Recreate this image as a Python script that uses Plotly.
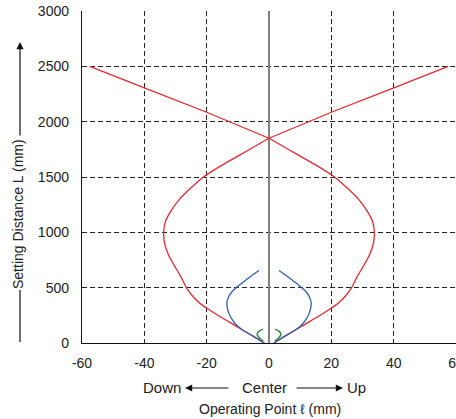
import plotly.graph_objects as go

# ---- data ----
x_ticks = [-60, -40, -20, 0, 20, 40, 60]
y_ticks = [0, 500, 1000, 1500, 2000, 2500, 3000]

# red: lower lobe (right half, mirrored for left)
red_lobe_y = [0, 60, 120, 180, 240, 300, 340, 380, 420, 470, 520, 600, 700, 800, 900,
              1000, 1100, 1200, 1300, 1400, 1500, 1600, 1700, 1800, 1850]
red_lobe_x = [1.5, 5.0, 8.6, 12.2, 15.8, 19.2, 21.3, 23.0, 24.4, 25.8, 26.9, 28.3, 30.4, 32.3, 33.5,
              33.8, 33.2, 31.3, 28.7, 25.1, 21.0, 15.5, 9.3, 3.1, 0.0]
# red: upper straight branches beyond crossing
red_top_y = [1850, 2085, 2305, 2500]
red_top_x = [0.0, 20.0, 40.0, 57.5]

# blue (right half, mirrored for left)
blue_y = [0, 60, 120, 170, 220, 270, 320, 370, 420, 465, 515, 565, 610, 655]
blue_x = [1.5, 5.0, 8.6, 10.7, 12.0, 12.9, 13.4, 13.5, 12.9, 11.8, 9.9, 7.6, 5.5, 3.2]

# green (right half, mirrored for left)
green_y = [20, 45, 78, 105, 125]
green_x = [1.9, 3.1, 3.8, 3.3, 2.0]

RED = "#e8282e"
BLUE = "#2f5fb3"
GREEN = "#2e8b3c"
FONT = "Liberation Sans, Arial, sans-serif"

fig = go.Figure()

def add(xs, ys, color, shape="spline", width=1.3):
    fig.add_trace(go.Scatter(x=xs, y=ys, mode="lines",
                             line=dict(color=color, width=width, shape=shape, smoothing=0.6),
                             hoverinfo="skip", showlegend=False))

for s in (1, -1):
    add([s * v for v in green_x], green_y, GREEN, width=1.5)
for s in (1, -1):
    add([s * v for v in red_lobe_x], red_lobe_y, RED)
    add([-s * v for v in red_top_x], red_top_y, RED, shape="linear")
    add([s * v for v in blue_x], blue_y, BLUE)

W, H = 456, 419
L, R, T = 82, 0, 11
B = H - 343
pw, ph = W - L - R, H - T - B

def px(x):
    return (x - L) / pw

def py(y):
    return (H - B - y) / ph

tickfont = dict(family=FONT, size=14, color="#222")

fig.update_layout(
    width=W, height=H,
    margin=dict(l=L, r=R, t=T, b=B, autoexpand=False),
    paper_bgcolor="white", plot_bgcolor="white",
    template="none",
    xaxis=dict(range=[-60, 60], tickvals=x_ticks, ticktext=[str(v) for v in x_ticks],
               showgrid=True, gridcolor="#222", griddash="5px,3px", gridwidth=1,
               zeroline=True, zerolinecolor="#808080", zerolinewidth=2,
               showline=True, linecolor="#111", linewidth=1.2,
               ticks="", tickfont=tickfont, automargin=False, ticklabelstandoff=7,
               ticklabeloverflow="allow"),
    yaxis=dict(range=[0, 3000], tickvals=y_ticks, ticktext=[str(v) for v in y_ticks],
               showgrid=True, gridcolor="#222", griddash="5px,3px", gridwidth=1,
               zeroline=False,
               showline=True, linecolor="#111", linewidth=1.2,
               ticks="", tickfont=tickfont, automargin=False, ticklabelstandoff=9,
               ticklabeloverflow="allow"),
)

ann_font = dict(family=FONT, size=15, color="#222")

def txt(x, y, t, font, angle=0):
    return dict(x=px(x), y=py(y), xref="paper", yref="paper", text=t, textangle=angle,
                xanchor="center", yanchor="middle", showarrow=False, font=font)

def arrow(hx, hy, ax, ay):
    return dict(x=px(hx), y=py(hy), xref="paper", yref="paper", text="", showarrow=True,
                ax=ax, ay=ay, arrowhead=2, arrowsize=1.2, arrowwidth=1.2, arrowcolor="#111")

annotations = [
    txt(18, 214, "Setting Distance L (mm)", dict(family=FONT, size=14, color="#222"), -90),
    arrow(20, 42, 0, 95),
    txt(162, 388, "Down", ann_font),
    txt(264, 388, "Center", ann_font),
    txt(356, 388, "Up", ann_font),
    arrow(185, 388, 45, 0),
    arrow(343, 388, -48, 0),
    txt(270, 409, "Operating Point ℓ (mm)", dict(family=FONT, size=14, color="#222")),
]
fig.update_layout(annotations=annotations)

fig.add_shape(type="line", xref="paper", yref="paper",
              x0=px(20), x1=px(20), y0=py(342), y1=py(290),
              line=dict(color="#111", width=1.2))

fig.write_html("out.html",
               config={"displayModeBar": False, "staticPlot": True},
               post_script="document.body.style.margin='0';document.body.style.overflow='hidden';")
